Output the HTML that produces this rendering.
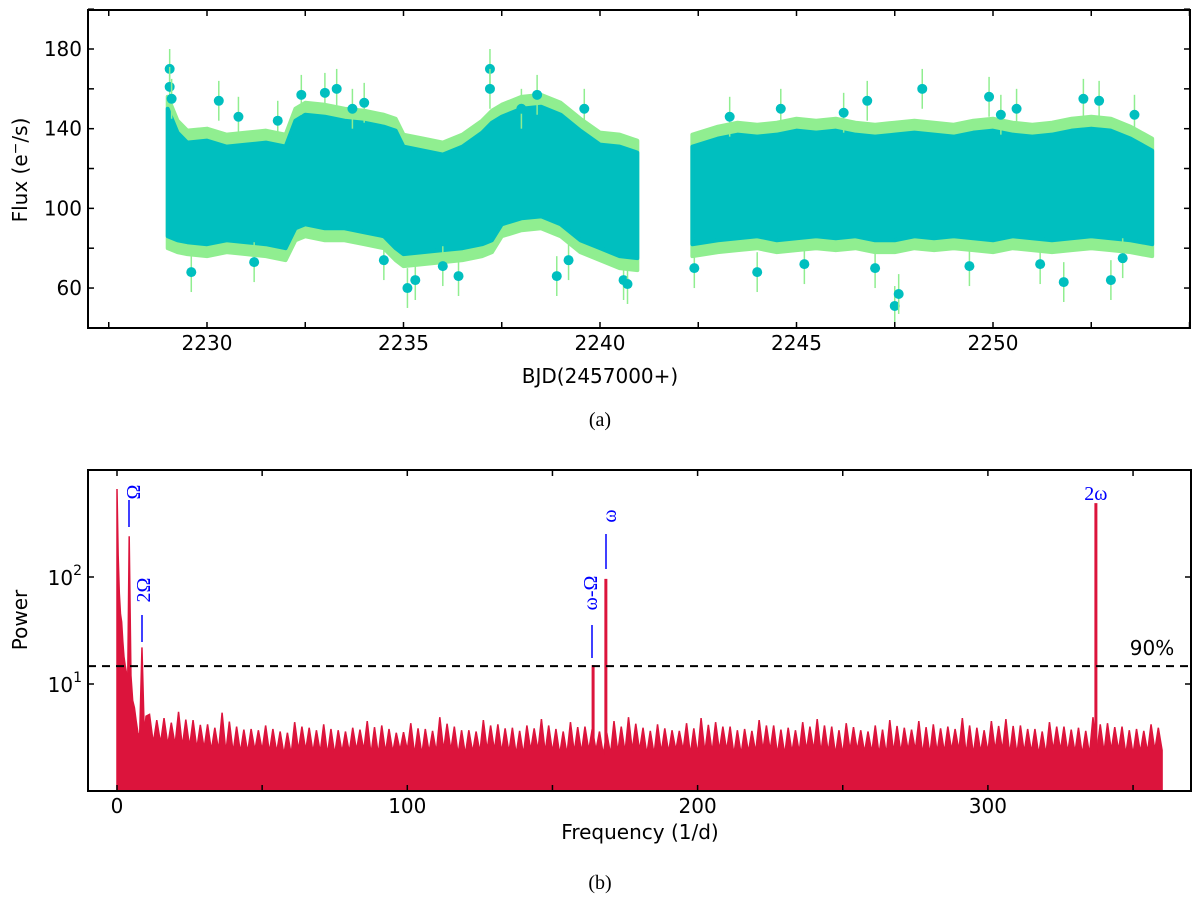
<!DOCTYPE html>
<html><head><meta charset="utf-8">
<style>
html,body{margin:0;padding:0;background:#fff;}
svg{display:block;}
.tk{font-family:"DejaVu Sans","Liberation Sans",sans-serif;font-size:20px;fill:#000;}
.ttl{font-family:"DejaVu Sans","Liberation Sans",sans-serif;font-size:20px;fill:#000;}
.cap{font-family:"Liberation Serif",serif;font-size:20px;fill:#000;}
.lab{font-family:"Liberation Serif","DejaVu Serif",serif;font-size:20px;fill:#0000ff;}
</style></head>
<body>
<svg id="fig" width="1200" height="902" viewBox="0 0 1200 902" xmlns="http://www.w3.org/2000/svg">
<g id="top"></g>
<g id="bot"></g>
<text class="cap" x="600" y="426" text-anchor="middle">(a)</text>
<text class="cap" x="600" y="889" text-anchor="middle">(b)</text>
</svg>
<script>
// ---- Light curve data (binned envelopes) ----
const lcTimes = [2229.0,2229.25,2229.5,2230,2230.5,2231,2231.5,2232,2232.25,2232.5,2233,2233.5,2234,2234.5,2234.8,2235,2235.5,2236,2236.5,2237,2237.25,2237.5,2238,2238.5,2239,2239.5,2240,2240.5,2240.95];
const lcHigh  = [150,138,133,134,131,132,133,131,144,147,146,144,143,141,139,131,129,127,131,138,143,146,150,151,147,139,132,131,128];
const lcLow   = [86,84,83,82,84,83,82,80,90,92,90,90,88,86,80,77,78,79,80,82,84,92,95,96,92,84,80,76,75];
const lcTimes2 = [2242.35,2243,2243.5,2244,2244.5,2245,2245.5,2246,2246.5,2247,2247.5,2248,2248.5,2249,2249.5,2250,2250.5,2251,2251.5,2252,2252.5,2253,2253.5,2254.05];
const lcHigh2  = [131,135,137,136,137,139,138,139,137,136,137,138,137,136,138,139,137,136,137,139,140,139,135,129];
const lcLow2   = [82,84,85,86,84,85,86,85,86,84,84,86,85,86,85,84,86,85,84,85,86,85,84,82];
const outT = [2229.05,2229.05,2229.1,2230.3,2231.8,2232.4,2233.0,2233.3,2234.0,2237.2,2237.2,2238.4,2239.6,2235.3,2235.1,2240.6,2240.7,2247.5,2247.6,2246.8,2248.2,2249.9,2252.3,2252.7,2253.0,2251.8,2229.6,2244.0,2242.4,2236.4,2238.9,2230.8,2233.7,2236.0,2238.0,2239.2,2243.3,2245.2,2246.2,2249.4,2250.6,2251.2,2253.6,2244.6,2247.0,2250.2,2253.3,2231.2,2234.5];
const outV = [170,161,155,154,144,157,158,160,153,170,160,157,150,64,60,64,62,51,57,154,160,156,155,154,64,63,68,68,70,66,66,146,150,71,150,74,146,72,148,71,150,72,147,150,70,147,75,73,74];
const errPad = 6;

// ---- Periodogram data ----
const lowF = [0,0.4,0.8,1.2,1.6,2.0,2.4,2.8,3.2,3.6,4.2,4.8,5.4,6.0,6.6,7.2,7.8,8.6,9.4,10];
const lowP = [665,160,70,45,38,25,18,15,13,6,240,12,7,6,4.5,3.5,3.2,22,3.4,5];
const noiseTop = [5.2,4.8,5.5,4.6,4.2,5.4,4.0,3.8,4.1,3.6,4.4,3.9,4.2,3.7,3.9,4.5,4.1,3.5,4.3,3.8,4.9,4.0,3.7,4.6,4.2,3.9,4.1,4.7,3.8,4.4,4.0,3.6,4.5,4.9,3.9,4.2,3.7,4.3,4.8,4.4,4.0,3.8,4.6,4.1,3.9,4.4,4.7,4.0,4.3,3.7,4.1,4.6,3.9,4.5,4.2,4.0,4.8,3.9,4.5,4.7,4.1,3.8,4.4,4.0,3.9,4.9,4.3,4.0,3.8,4.2];
const noiseBase = [2.8,2.7,2.6,2.5,2.4,2.3,2.3,2.4,2.3,2.2,2.4,2.3,2.2,2.3,2.4,2.2,2.3,2.4,2.2,2.3,2.4,2.2,2.3,2.4,2.3,2.2,2.4,2.3,2.2,2.3,2.4,2.2,2.3,2.4,2.2,2.3,2.4,2.2,2.3,2.4,2.2,2.3,2.4,2.2,2.3,2.4,2.3,2.2,2.4,2.3,2.2,2.3,2.4,2.2,2.3,2.4,2.2,2.3,2.4,2.2,2.3,2.2,2.4,2.3,2.2,2.3,2.4,2.2,2.3,2.4];
const noiseStart = 10, noiseStep = 5, noiseEnd = 360;
const peakF = [164.0,168.4,337.2];
const peakP = [15,96,490];
const peakNames = ['peak-omega-minus-Omega','peak-omega','peak-2omega'];
const sig90 = 14.7;
const xTicksB = [0,100,200,300];
const xTicksT = [2230,2235,2240,2245,2250];
const yTicksT = [60,100,140,180];

const NS='http://www.w3.org/2000/svg';
function mk(tag,attrs,parent){const e=document.createElementNS(NS,tag);for(const k in attrs)e.setAttribute(k,attrs[k]);parent.appendChild(e);return e;}

// ---- top scales ----
const xT=d=>207+(d-2230)*39.3;
const yT=v=>49+(180-v)*1.992;
const T=document.getElementById('top');
function band(ts,hi,lo,pad,fill,name){
  let pts=[];
  for(let i=0;i<ts.length;i++)pts.push(xT(ts[i])+','+yT(hi[i]+pad));
  for(let i=ts.length-1;i>=0;i--)pts.push(xT(ts[i])+','+yT(lo[i]-pad));
  const p=mk('polygon',{points:pts.join(' '),fill:fill,stroke:fill,'stroke-width':4,'stroke-linejoin':'round'},T);
  
  
}
band(lcTimes,lcHigh,lcLow,errPad,'#90ee90','error-band-segment1');
band(lcTimes2,lcHigh2,lcLow2,errPad,'#90ee90','error-band-segment2');
band(lcTimes,lcHigh,lcLow,0,'#00bfbf','flux-band-segment1');
band(lcTimes2,lcHigh2,lcLow2,0,'#00bfbf','flux-band-segment2');
for(let i=0;i<outT.length;i++){
  const l=mk('line',{x1:xT(outT[i]),x2:xT(outT[i]),y1:yT(outV[i]+10),y2:yT(outV[i]-10),stroke:'#90ee90','stroke-width':1.5},T);
  
  
  const c=mk('circle',{cx:xT(outT[i]),cy:yT(outV[i]),r:5,fill:'#00bfbf'},T);
  
  
}
const fr=mk('rect',{x:88,y:10,width:1102,height:318,fill:'none',stroke:'#000','stroke-width':2},T);


for(let d=2227.5;d<=2255;d+=2.5){
  const x=xT(d);
  mk('line',{x1:x,x2:x,y1:328,y2:322,stroke:'#000','stroke-width':1.5},T);
  mk('line',{x1:x,x2:x,y1:10,y2:16,stroke:'#000','stroke-width':1.5},T);
}
xTicksT.forEach(d=>{
  const t=mk('text',{x:xT(d),y:350,'text-anchor':'middle',class:'tk'},T);t.textContent=d;
  
  
});
for(let v=40;v<=200;v+=20){
  const y=yT(v);
  mk('line',{x1:88,x2:94,y1:y,y2:y,stroke:'#000','stroke-width':1.5},T);
  mk('line',{x1:1190,x2:1184,y1:y,y2:y,stroke:'#000','stroke-width':1.5},T);
}
yTicksT.forEach(v=>{
  const t=mk('text',{x:82,y:yT(v)+7,'text-anchor':'end',class:'tk'},T);t.textContent=v;
  
  
});
let tt=mk('text',{x:600,y:383,'text-anchor':'middle',class:'ttl'},T);tt.textContent='BJD(2457000+)';


tt=mk('text',{x:0,y:0,'text-anchor':'middle',class:'ttl',transform:'translate(27,170) rotate(-90)'},T);
tt.innerHTML='Flux (e<tspan dy="-7" font-size="14">−</tspan><tspan dy="7">/s)</tspan>';



// ---- bottom scales ----
const xB=f=>117+f*2.903;
const yB=p=>791-107*Math.log10(p);
const B=document.getElementById('bot');
let pts=[xB(0)+','+791];
for(let i=0;i<lowF.length;i++)pts.push(xB(lowF[i])+','+yB(lowP[i]));
for(let i=0;i<noiseTop.length;i++){
  const f=noiseStart+i*noiseStep;
  pts.push(xB(f+1.2)+','+yB(noiseTop[i]));
  pts.push(xB(f+2.5)+','+yB(noiseBase[i]));
  pts.push(xB(f+3.7)+','+yB((noiseTop[i]+noiseBase[i])/2+0.6));
  pts.push(xB(f+5)+','+yB(noiseBase[i]));
}
pts.push(xB(noiseEnd)+','+791);
const area=mk('polygon',{points:pts.join(' '),fill:'#dc143c',stroke:'#dc143c','stroke-width':1.5},B);


for(let i=0;i<peakF.length;i++){
  const l=mk('line',{x1:xB(peakF[i]),x2:xB(peakF[i]),y1:791,y2:yB(peakP[i]),stroke:'#dc143c','stroke-width':3},B);
  
  
}
const sl=mk('line',{x1:88,x2:1191,y1:yB(sig90),y2:yB(sig90),stroke:'#000','stroke-width':2,'stroke-dasharray':'8,6'},B);


let t9=mk('text',{x:1152,y:yB(sig90)-11,'text-anchor':'middle',class:'tk'},B);t9.textContent='90%';


function vlabel(x,y,txt,lx,ly1,ly2,name){
  const ln=mk('line',{x1:lx,x2:lx,y1:ly1,y2:ly2,stroke:'#0000ff','stroke-width':1.5},B);
  
  
  const t=mk('text',{x:0,y:0,'text-anchor':'middle',class:'lab',transform:'translate('+x+','+y+') rotate(-90)'},B);
  t.textContent=txt;
  
  
}
vlabel(140,492,'Ω',129,500,527,'label-Omega');
vlabel(150,590,'2Ω',142,615,642,'label-2Omega');
vlabel(597,593,'ω-Ω',592,625,658,'label-omega-minus-Omega');
vlabel(616,516,'ω',606,534,569,'label-omega');
let t2=mk('text',{x:xB(337.2),y:500,'text-anchor':'middle',class:'lab'},B);t2.textContent='2ω';


const fb=mk('rect',{x:88,y:470,width:1103,height:321,fill:'none',stroke:'#000','stroke-width':2},B);


for(let f=0;f<=350;f+=50){
  const x=xB(f);
  mk('line',{x1:x,x2:x,y1:791,y2:785,stroke:'#000','stroke-width':1.5},B);
  mk('line',{x1:x,x2:x,y1:470,y2:476,stroke:'#000','stroke-width':1.5},B);
}
xTicksB.forEach(f=>{
  const t=mk('text',{x:xB(f),y:813,'text-anchor':'middle',class:'tk'},B);t.textContent=f;
  
  
});
[10,100].forEach(p=>{
  const y=yB(p);
  mk('line',{x1:88,x2:94,y1:y,y2:y,stroke:'#000','stroke-width':1.5},B);
  mk('line',{x1:1191,x2:1185,y1:y,y2:y,stroke:'#000','stroke-width':1.5},B);
  const t=mk('text',{x:82,y:y+8,'text-anchor':'end',class:'tk'},B);
  t.innerHTML='10<tspan dy="-10" font-size="14">'+Math.log10(p)+'</tspan>';
  
  
});
tt=mk('text',{x:640,y:839,'text-anchor':'middle',class:'ttl'},B);tt.textContent='Frequency (1/d)';


tt=mk('text',{x:0,y:0,'text-anchor':'middle',class:'ttl',transform:'translate(27,620) rotate(-90)'},B);tt.textContent='Power';


</script>
</body></html>
